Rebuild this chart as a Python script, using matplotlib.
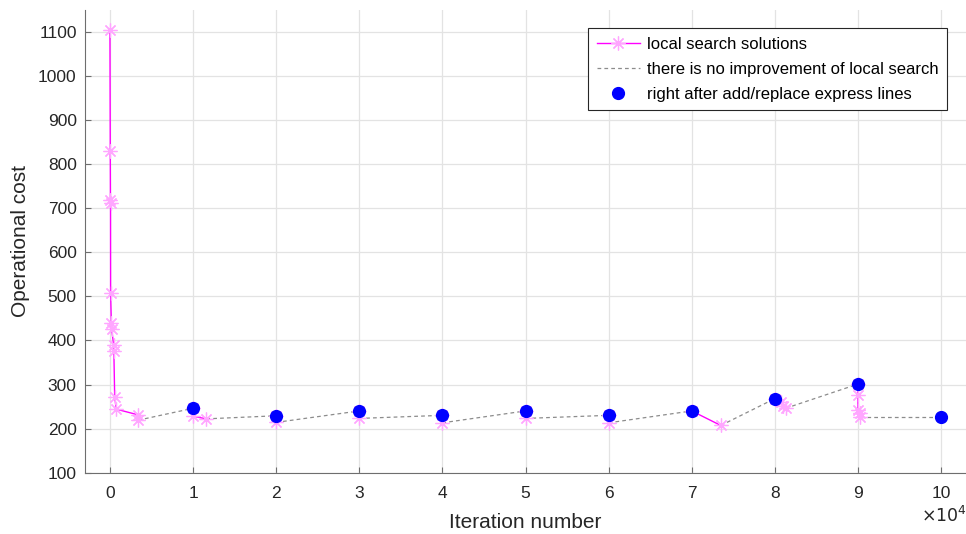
import matplotlib.pyplot as plt

plt.rcParams['font.family'] = ['Liberation Sans', 'DejaVu Sans']

# iteration numbers are in units of 1e4
ls_x = [
    [0.0, 0.004, 0.006, 0.007, 0.008, 0.017, 0.019, 0.045, 0.047, 0.057, 0.077, 0.34, 0.34],
    [1.0, 1.0, 1.16],
    [2.0, 2.0],
    [3.0, 3.0],
    [4.0, 4.0],
    [5.0, 5.0],
    [6.0, 6.0],
    [7.0, 7.35],
    [8.0, 8.08, 8.10, 8.13],
    [9.0, 9.0, 9.0, 9.02, 9.02],
]
ls_y = [
    [1105, 830, 720, 712, 507, 440, 427, 390, 377, 272, 244, 231, 219],
    [246, 228, 222],
    [229, 214],
    [240, 223],
    [230, 213],
    [240, 223],
    [230, 213],
    [240, 207],
    [268, 261, 252, 246],
    [301, 276, 241, 235, 227],
]
add_x = [1, 2, 3, 4, 5, 6, 7, 8, 9, 10]
add_y = [246, 229, 240, 230, 240, 230, 240, 268, 301, 227]

fig = plt.figure(figsize=(9.66, 5.34), dpi=100)
ax = fig.add_axes([0.088, 0.115, 0.912, 0.866])

for i, (xs, ys) in enumerate(zip(ls_x, ls_y)):
    ax.plot(xs, ys, '-', color='#ff00ff', lw=1.0,
            marker=(8, 2, 0), ms=10, mec='#ffa6ff', mew=0.9,
            label='local search solutions' if i == 0 else None, zorder=3)

for i in range(len(add_x)):
    ax.plot([ls_x[i][-1], add_x[i]], [ls_y[i][-1], add_y[i]], '--',
            color='#8c8c8c', lw=0.9, dashes=(3, 2.5),
            label='there is no improvement of local search' if i == 0 else None,
            zorder=2)

ax.plot(add_x, add_y, 'o', color='#0000ff', ms=8.5, ls='none',
        label='right after add/replace express lines', zorder=4)

ax.set_xlim(-0.3, 10.3)
ax.set_ylim(100, 1150)
ax.set_xticks(range(0, 11))
ax.set_yticks(range(100, 1101, 100))
ax.grid(True, color='#e3e3e3', lw=0.9)
ax.set_axisbelow(True)
for s in ['top', 'right']:
    ax.spines[s].set_visible(False)
for s in ['left', 'bottom']:
    ax.spines[s].set_color('#6e6e6e')
ax.tick_params(colors='#262626', labelsize=12.5, length=4, direction='in',
               width=0.8)
ax.tick_params(axis='both', color='#6e6e6e')
ax.tick_params(axis='x', pad=10)
ax.tick_params(axis='y', pad=6)

ax.set_xlabel('Iteration number', fontsize=15, color='#262626', labelpad=8)
ax.set_ylabel('Operational cost', fontsize=15, color='#262626', labelpad=6)
fig.text(0.977, 0.016, r'$\times10^{4}$', fontsize=12.5, color='#262626',
         ha='center', va='bottom', math_fontfamily='custom')

leg = ax.legend(loc='upper right', bbox_to_anchor=(0.978, 0.961), fontsize=12,
                frameon=True, fancybox=False, framealpha=1, edgecolor='#262626',
                handlelength=2.6, handletextpad=0.4, borderpad=0.5,
                labelspacing=0.6, borderaxespad=0)
leg.get_frame().set_linewidth(0.8)

fig.savefig('out.png', dpi=100)
